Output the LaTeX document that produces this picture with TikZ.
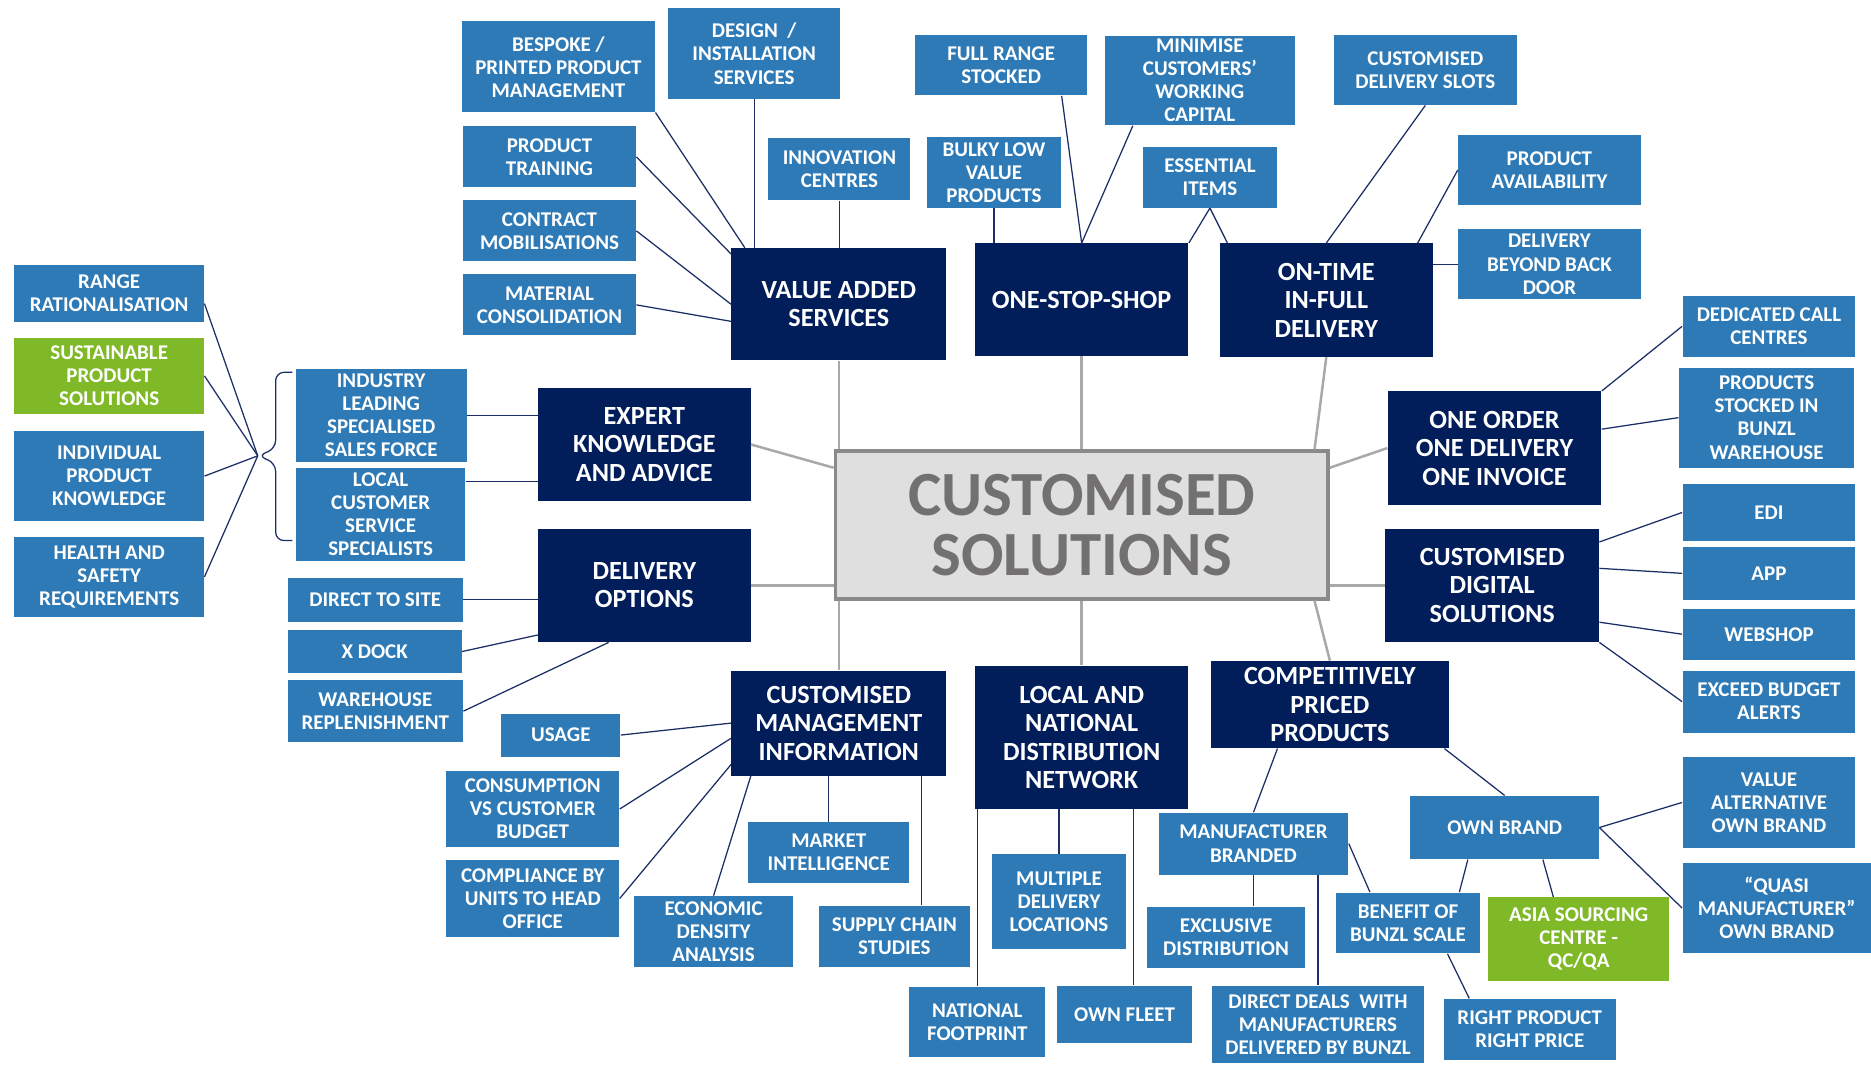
\documentclass[tikz,border=0pt]{standalone}
\usepackage{fontspec}
\setmainfont{Carlito}
\definecolor{navy}{HTML}{021E5A}
\definecolor{midblue}{HTML}{2E7AB6}
\definecolor{leafgreen}{HTML}{7FB927}
\definecolor{hubfill}{HTML}{DFDFDF}
\definecolor{hubline}{HTML}{8A8A8A}
\definecolor{hubtext}{HTML}{727070}
\definecolor{spoke}{HTML}{A9A9A9}
\definecolor{twig}{HTML}{1B2F66}
\tikzset{
  leafbx/.style 2 args={fill=midblue,text=white,inner sep=0pt,align=center,minimum width=#1,minimum height=#2,font=\fontsize{10}{11}\selectfont\bfseries},
  greenbx/.style 2 args={leafbx={#1}{#2},fill=leafgreen},
  hubbx/.style={fill=navy,text=white,inner sep=0pt,align=center,minimum width=3.58cm,minimum height=1.9cm,font=\fontsize{12.5}{13.6}\selectfont\bfseries},
  core/.style={fill=hubfill,draw=hubline,line width=1.6pt,inner sep=0pt,align=center,text=hubtext,font=\fontsize{30}{29}\selectfont\bfseries},
  spk/.style={spoke,line width=1.2pt},
  twg/.style={twig,line width=0.6pt},
}

\begin{document}
\begin{tikzpicture}[x=0.02cm,y=-0.02cm]
\useasboundingbox (0,0) rectangle (1568,892);
\node[core,minimum width=8.26cm,minimum height=2.48cm] (cs) at (906.5,440) {CUSTOMISED\\SOLUTIONS};
% main branches
\node[hubbx,minimum width=3.6cm,minimum height=1.88cm] (va) at (703,255) {VALUE ADDED\\SERVICES};
\node[hubbx,minimum height=1.88cm] (oss) at (906.5,251) {ONE-STOP-SHOP};
\node[hubbx] (otf) at (1111.5,251.5) {ON-TIME\\IN-FULL\\DELIVERY};
\node[hubbx,minimum width=3.56cm] (exp) at (540,372.5) {EXPERT\\KNOWLEDGE\\AND ADVICE};
\node[hubbx,minimum width=3.56cm] (dlo) at (540,490.5) {DELIVERY\\OPTIONS};
\node[hubbx] (ood) at (1252.5,375.5) {ONE ORDER\\ONE DELIVERY\\ONE INVOICE};
\node[hubbx] (cdg) at (1250.5,490.5) {CUSTOMISED\\DIGITAL\\SOLUTIONS};
\node[hubbx,minimum width=3.6cm,minimum height=1.76cm] (cmi) at (703,606) {CUSTOMISED\\MANAGEMENT\\INFORMATION};
\node[hubbx,minimum height=2.4cm] (lnd) at (906.5,618) {LOCAL AND\\NATIONAL\\DISTRIBUTION\\NETWORK};
\node[hubbx,minimum width=3.98cm,minimum height=1.46cm] (cpp) at (1114.5,590.5) {COMPETITIVELY\\PRICED\\PRODUCTS};
\draw[spk] (va.south) -- (va.south |- cs.north); \draw[spk] (oss.south) -- (oss.south |- cs.north);
\draw[spk] (otf.south) -- (cs.18); \draw[spk] (exp.east) -- (cs.167);
\draw[spk] (dlo.east) -- (dlo.east -| cs.west); \draw[spk] (ood.west) -- (cs.13);
\draw[spk] (cdg.west) -- (cdg.west -| cs.east); \draw[spk] (cmi.north) -- (cmi.north |- cs.south);
\draw[spk] (lnd.north) -- (lnd.north |- cs.south); \draw[spk] (cpp.north) -- (cs.-18);
% left
\node[leafbx={3.18cm}{0.96cm}] (rng) at (91.5,246) {RANGE\\RATIONALISATION};
\node[greenbx={3.18cm}{1.28cm}] (sus) at (91.5,315) {SUSTAINABLE\\PRODUCT\\SOLUTIONS};
\node[leafbx={3.18cm}{1.52cm}] (ind) at (91.5,399) {INDIVIDUAL\\PRODUCT\\KNOWLEDGE};
\node[leafbx={3.18cm}{1.34cm}] (hsr) at (91.5,483.5) {HEALTH AND\\SAFETY\\REQUIREMENTS};
\node[leafbx={2.86cm}{1.56cm}] (ils) at (319.5,348) {INDUSTRY\\LEADING\\SPECIALISED\\SALES FORCE};
\node[leafbx={2.84cm}{1.56cm}] (lcs) at (319,431) {LOCAL\\CUSTOMER\\SERVICE\\SPECIALISTS};
\coordinate (tip) at (216,382);
\draw[twg] (rng.-6) -- (tip); \draw[twg] (sus.east) -- (tip); \draw[twg] (ind.east) -- (tip); \draw[twg] (hsr.east) -- (tip);
\draw[twg,rounded corners=4pt] (245,312) -- (231,312) -- (231,376) -- (tip) -- (231,388) -- (231,453) -- (245,453);
\draw[twg] (ils.east) -- (ils.east -| exp.west); \draw[twg] (lcs.21) -- (lcs.21 -| exp.west);
\node[leafbx={2.94cm}{0.74cm}] (dts) at (314.5,502.5) {DIRECT TO SITE};
\node[leafbx={2.92cm}{0.72cm}] (xdk) at (314,546) {X DOCK};
\node[leafbx={2.94cm}{1.04cm}] (whr) at (314.5,596) {WAREHOUSE\\REPLENISHMENT};
\draw[twg] (dts.east) -- (dts.east -| dlo.west); \draw[twg] (xdk.east) -- (dlo.205); \draw[twg] (whr.east) -- (dlo.238);
% top
\node[leafbx={3.24cm}{1.52cm}] (bsp) at (468,56) {BESPOKE /\\PRINTED PRODUCT\\MANAGEMENT};
\node[leafbx={2.88cm}{1.52cm}] (dsg) at (632,45) {DESIGN\ \ /\\INSTALLATION\\SERVICES};
\node[leafbx={2.9cm}{1.02cm}] (ptr) at (460.5,131.5) {PRODUCT\\TRAINING};
\node[leafbx={2.9cm}{1.02cm}] (cmb) at (460.5,193.5) {CONTRACT\\MOBILISATIONS};
\node[leafbx={2.9cm}{1.02cm}] (mcn) at (460.5,255.5) {MATERIAL\\CONSOLIDATION};
\node[leafbx={2.38cm}{1.04cm}] (inn) at (703.5,142) {INNOVATION\\CENTRES};
\draw[twg] (bsp.south east) -- (va.149); \draw[twg] (dsg.south) -- (dsg.south |- va.north);
\draw[twg] (ptr.east) -- (va.155); \draw[twg] (cmb.east) -- (va.west); \draw[twg] (mcn.east) -- (va.189);
\draw[twg] (inn.south) -- (inn.south |- va.north);
\node[leafbx={2.88cm}{1.02cm}] (frs) at (839,54.5) {FULL RANGE\\STOCKED};
\node[leafbx={3.18cm}{1.5cm}] (mcw) at (1005.5,67.5) {MINIMISE\\CUSTOMERS’\\WORKING\\CAPITAL};
\node[leafbx={2.24cm}{1.18cm}] (blk) at (833,144.5) {BULKY LOW\\VALUE\\PRODUCTS};
\node[leafbx={2.24cm}{1.02cm}] (ess) at (1014,148.5) {ESSENTIAL\\ITEMS};
\draw[twg] (frs.-27.5) -- (oss.north); \draw[twg] (mcw.214) -- (oss.north);
\draw[twg] (blk.south) -- (blk.south |- oss.north);
\draw[twg] (ess.south) -- (oss.north east); \draw[twg] (ess.south) -- (otf.150);
\node[leafbx={3.06cm}{1.18cm}] (cds) at (1194.5,58.5) {CUSTOMISED\\DELIVERY SLOTS};
\node[leafbx={3.06cm}{1.18cm}] (pav) at (1298.5,142.5) {PRODUCT\\AVAILABILITY};
\node[leafbx={3.06cm}{1.18cm}] (dbb) at (1298.5,221.5) {DELIVERY\\BEYOND BACK\\DOOR};
\draw[twg] (cds.south) -- (otf.north); \draw[twg] (pav.west) -- (otf.32); \draw[twg] (dbb.west) -- (dbb.west -| otf.east);
% right
\node[leafbx={2.9cm}{1.02cm}] (dcc) at (1482.5,273.5) {DEDICATED CALL\\CENTRES};
\node[leafbx={2.94cm}{1.68cm}] (psb) at (1480.5,350) {PRODUCTS\\STOCKED IN\\BUNZL\\WAREHOUSE};
\draw[twg] (dcc.west) -- (ood.north east); \draw[twg] (psb.west) -- (ood.10);
\node[leafbx={2.9cm}{0.94cm}] (edi) at (1482.5,429.5) {EDI};
\node[leafbx={2.9cm}{0.9cm}] (app) at (1482.5,480.5) {APP};
\node[leafbx={2.9cm}{0.86cm}] (wsh) at (1482.5,531.5) {WEBSHOP};
\node[leafbx={2.9cm}{1.04cm}] (eba) at (1482.5,588) {EXCEED BUDGET\\ALERTS};
\draw[twg] (edi.west) -- (cdg.22); \draw[twg] (app.west) -- (cdg.9); \draw[twg] (wsh.west) -- (cdg.-19); \draw[twg] (eba.west) -- (cdg.south east);
% bottom
\node[leafbx={2cm}{0.72cm}] (usg) at (470,616) {USAGE};
\node[leafbx={2.9cm}{1.28cm}] (cvb) at (446.5,678) {CONSUMPTION\\VS CUSTOMER\\BUDGET};
\node[leafbx={2.9cm}{1.28cm}] (cbu) at (446.5,753) {COMPLIANCE BY\\UNITS TO HEAD\\OFFICE};
\node[leafbx={2.68cm}{1.18cm}] (eda) at (598,780.5) {ECONOMIC\\DENSITY\\ANALYSIS};
\node[leafbx={2.7cm}{1.02cm}] (mki) at (694.5,714.5) {MARKET\\INTELLIGENCE};
\node[leafbx={2.54cm}{1.02cm}] (scs) at (749.5,784.5) {SUPPLY CHAIN\\STUDIES};
\draw[twg] (usg.east) -- (cmi.west); \draw[twg] (cvb.east) -- (cmi.188); \draw[twg] (cbu.east) -- (cmi.201);
\draw[twg] (eda.north) -- (cmi.211); \draw[twg] (mki.north) -- (mki.north |- cmi.south); \draw[twg] (scs.49) -- (scs.49 |- cmi.south);
\node[leafbx={2.28cm}{1.18cm}] (nfp) at (819,856.5) {NATIONAL\\FOOTPRINT};
\node[leafbx={2.26cm}{1.58cm}] (mdl) at (887.5,755.5) {MULTIPLE\\DELIVERY\\LOCATIONS};
\node[leafbx={2.26cm}{0.96cm}] (ofl) at (942.5,850) {OWN FLEET};
\draw[twg] (nfp.north) -- (nfp.north |- lnd.south); \draw[twg] (mdl.north) -- (mdl.north |- lnd.south); \draw[twg] (ofl.73) -- (ofl.73 |- lnd.south);
\node[leafbx={3.18cm}{1.04cm}] (mbr) at (1050.5,707) {MANUFACTURER\\BRANDED};
\node[leafbx={2.66cm}{1.02cm}] (exd) at (1027.5,785.5) {EXCLUSIVE\\DISTRIBUTION};
\node[leafbx={3.54cm}{1.3cm}] (ddm) at (1104.5,858.5) {DIRECT DEALS\ \ WITH\\MANUFACTURERS\\DELIVERED BY BUNZL};
\node[leafbx={2.4cm}{1.02cm}] (bbs) at (1180,773.5) {BENEFIT OF\\BUNZL SCALE};
\node[leafbx={3.16cm}{1.06cm}] (obr) at (1261,693.5) {OWN BRAND};
\node[greenbx={3.04cm}{1.4cm}] (asc) at (1323,787) {ASIA SOURCING\\CENTRE -\\QC/QA};
\node[leafbx={2.88cm}{1.02cm}] (rpp) at (1282,862.5) {RIGHT PRODUCT\\RIGHT PRICE};
\node[leafbx={2.9cm}{1.54cm}] (vao) at (1482.5,672.5) {VALUE\\ALTERNATIVE\\OWN BRAND};
\node[leafbx={3.16cm}{1.52cm}] (qmo) at (1489,761) {“QUASI\\MANUFACTURER”\\OWN BRAND};
\draw[twg] (cpp.220) -- (mbr.north); \draw[twg] (cpp.-21) -- (obr.north);
\draw[twg] (mbr.south) -- (mbr.south |- exd.north); \draw[twg] (ddm.north) -- (ddm.north |- mbr.south);
\draw[twg] (mbr.east) -- (bbs.141); \draw[twg] (obr.221) -- (bbs.31); \draw[twg] (obr.-40) -- (asc.121);
\draw[twg] (obr.east) -- (vao.west); \draw[twg] (obr.east) -- (qmo.west); \draw[twg] (bbs.-38) -- (rpp.153);
\end{tikzpicture}
\end{document}
